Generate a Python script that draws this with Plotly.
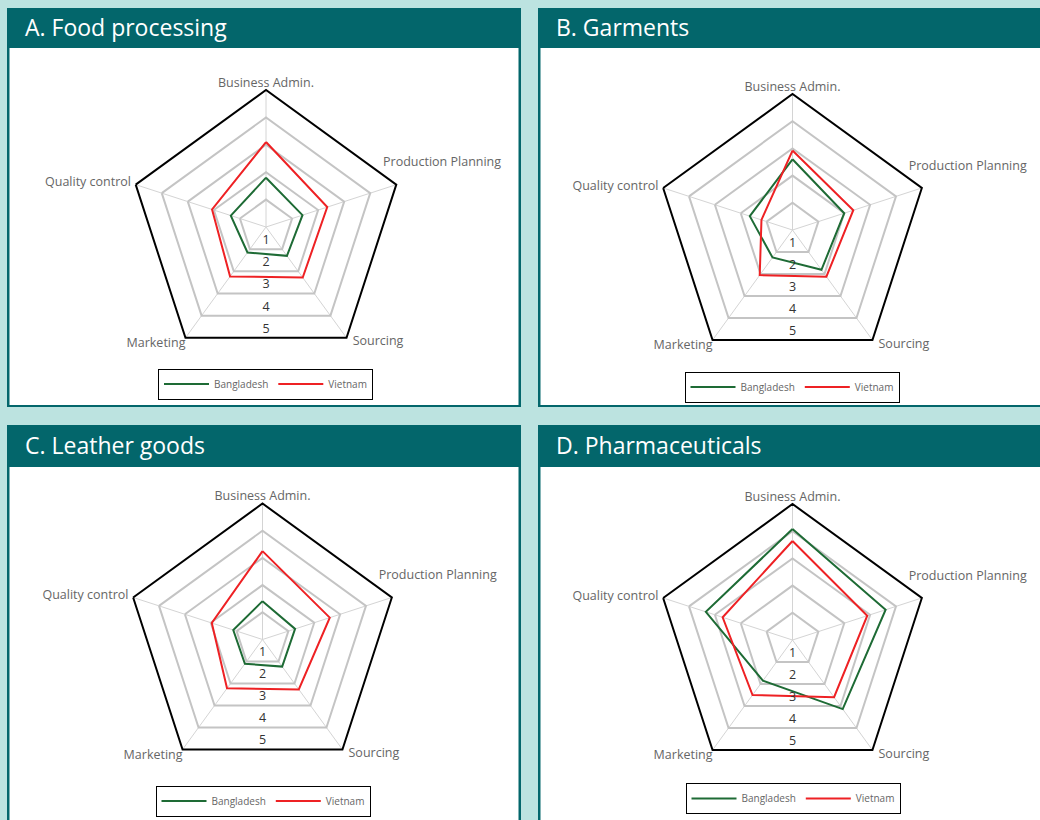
import math
import plotly.graph_objects as go

# ---------------- data ----------------
categories = ["Business Admin.", "Production Planning", "Sourcing", "Marketing", "Quality control"]
panel_titles = ["A. Food processing", "B. Garments", "C. Leather goods", "D. Pharmaceuticals"]
series_names = ["Bangladesh", "Vietnam"]

food_bangladesh = [1.8, 1.4, 1.3, 1.15, 1.35]
food_vietnam = [3.1, 2.35, 2.28, 2.23, 2.07]
garments_bangladesh = [2.6, 2.0, 1.81, 1.25, 1.65]
garments_vietnam = [2.92, 2.35, 2.12, 2.05, 1.2]
leather_bangladesh = [1.41, 1.26, 1.23, 1.1, 1.13]
leather_vietnam = [3.25, 2.6, 2.27, 2.22, 1.96]
pharma_bangladesh = [4.08, 3.6, 3.14, 1.85, 3.35]
pharma_vietnam = [3.64, 2.89, 2.6, 2.5, 2.7]

radial_ticks = [1, 2, 3, 4, 5]
radial_tick_labels = ["1", "2", "3", "4", "5"]

# ---------------- styling / layout ----------------
W, H = 1040, 820
BG = "#bce3e0"
TEAL = "#03666b"
GREEN = "#1e6b35"
RED = "#ee2124"
RING = "#c4c4c4"
SPOKE = "#d4d4d4"
LABEL_GRAY = "#666666"
FONT = "Open Sans"

R_MAX = 5
TEXT_R_MAX = 5.5  # overlay polar for labels reaches slightly beyond the outer ring

# category label placement (polar angle clockwise from top, radius, text anchor)
label_theta = [0, 63.8, 141.5, 216, 288]
label_r = [5.0, 4.76, 5.08, 5.0, 5.18]
label_pos = ["top center", "top right", "bottom right", "bottom left", "middle left"]

panels = [
    dict(title=panel_titles[0], data=[food_bangladesh, food_vietnam],
         box=(7, 8, 521, 407), head=48, center=(266, 227), radius=137, legend_c=(265.5, 384)),
    dict(title=panel_titles[1], data=[garments_bangladesh, garments_vietnam],
         box=(538, 8, 1046, 407), head=48, center=(792.5, 230), radius=136, legend_c=(792, 387)),
    dict(title=panel_titles[2], data=[leather_bangladesh, leather_vietnam],
         box=(7, 425, 521, 830), head=467, center=(262.5, 639.5), radius=136, legend_c=(263, 801)),
    dict(title=panel_titles[3], data=[pharma_bangladesh, pharma_vietnam],
         box=(538, 425, 1046, 830), head=467, center=(792.5, 640), radius=136, legend_c=(793, 798.5)),
]

def px(x):
    return x / W

def py(y):
    return 1 - y / H

fig = go.Figure()
shapes = []
annotations = []
layout_extra = {}

for i, p in enumerate(panels):
    x0, y0, x1, y1 = p["box"]
    shapes.append(dict(type="rect", xref="paper", yref="paper", layer="below",
                       x0=px(x0), x1=px(x1), y0=py(y1), y1=py(y0),
                       fillcolor=TEAL, line=dict(width=0)))
    shapes.append(dict(type="rect", xref="paper", yref="paper", layer="below",
                       x0=px(x0 + 2.5), x1=px(x1 - 2.5), y0=py(y1 - 2), y1=py(p["head"]),
                       fillcolor="white", line=dict(width=0)))
    annotations.append(dict(text=p["title"], xref="paper", yref="paper",
                            x=px(x0 + 16), y=py((y0 + p["head"]) / 2 - 1),
                            xanchor="left", yanchor="middle", showarrow=False,
                            font=dict(family=FONT, size=23, color="white")))

    cx, cy = p["center"]
    r = p["radius"]
    dom = dict(x=[px(cx - r), px(cx + r)], y=[py(cy + r), py(cy - r)])
    rt = r * TEXT_R_MAX / R_MAX
    dom_txt = dict(x=[px(cx - rt), px(cx + rt)], y=[py(cy + rt), py(cy - rt)])

    main = "polar" if i == 0 else f"polar{2 * i + 1}"
    txt = f"polar{2 * i + 2}"
    leg = "legend" if i == 0 else f"legend{i + 1}"

    layout_extra[main] = dict(
        domain=dom, gridshape="linear", bgcolor="white",
        radialaxis=dict(range=[0, R_MAX], tickvals=radial_ticks, showticklabels=False,
                        showline=False, ticks="", gridcolor=RING, gridwidth=2),
        angularaxis=dict(type="category", direction="clockwise", rotation=90,
                         showline=True, linecolor="black", linewidth=2,
                         gridcolor=SPOKE, gridwidth=1, ticks="", showticklabels=False),
    )
    layout_extra[txt] = dict(
        domain=dom_txt, bgcolor="rgba(0,0,0,0)",
        radialaxis=dict(range=[0, TEXT_R_MAX], visible=False),
        angularaxis=dict(direction="clockwise", rotation=90, visible=False),
    )

    for name, vals, col in zip(series_names, p["data"], [GREEN, RED]):
        fig.add_trace(go.Scatterpolar(
            r=vals + vals[:1], theta=categories + categories[:1],
            mode="lines", name=name, line=dict(color=col, width=2),
            subplot=main, legend=leg, hoverinfo="skip"))

    # radial value labels straight down, inside each ring
    fig.add_trace(go.Scatterpolar(
        r=[k * math.cos(math.pi / 5) - 0.3 for k in radial_ticks],
        theta=[180] * len(radial_ticks), mode="text", text=radial_tick_labels,
        textfont=dict(family=FONT, size=12.5, color="#333333"),
        subplot=txt, showlegend=False, hoverinfo="skip", cliponaxis=False))

    # category labels at the pentagon vertices
    fig.add_trace(go.Scatterpolar(
        r=label_r, theta=label_theta, mode="text", text=categories,
        textposition=label_pos,
        textfont=dict(family=FONT, size=12.5, color=LABEL_GRAY),
        subplot=txt, showlegend=False, hoverinfo="skip", cliponaxis=False))

    lx, ly = p["legend_c"]
    layout_extra[leg] = dict(
        orientation="h", x=px(lx), y=py(ly), xanchor="center", yanchor="middle",
        bgcolor="white", bordercolor="black", borderwidth=1,
        font=dict(family=FONT, size=10, color=LABEL_GRAY),
        itemwidth=45,
    )

fig.update_layout(
    width=W, height=H, margin=dict(l=0, r=0, t=0, b=0),
    paper_bgcolor=BG, plot_bgcolor=BG,
    shapes=shapes, annotations=annotations, showlegend=True,
    **layout_extra,
)

fig.write_html(
    "out.html",
    config={"displayModeBar": False},
    post_script=(
        "document.body.style.margin='0px';"
        "document.body.style.padding='0px';"
        "document.body.style.overflow='hidden';"
        "document.body.style.background='" + BG + "';"
    ),
)
